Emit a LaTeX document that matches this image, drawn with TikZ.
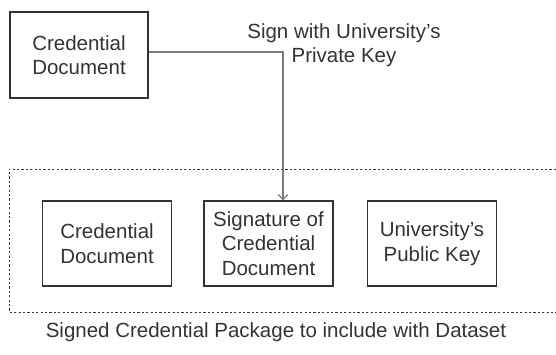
\documentclass[tikz,border=0pt]{standalone}
\usepackage{fontspec}
\setmainfont{Liberation Sans}
\usetikzlibrary{arrows.meta}
\definecolor{txt}{HTML}{333333}
\definecolor{arr}{HTML}{7A7A7A}
\begin{document}
\begin{tikzpicture}[x=1pt,y=-1pt,
  box/.style={draw=txt,line width=1.1pt,minimum width=129pt,minimum height=85pt,inner sep=0pt,align=center,text=txt,font=\fontsize{20.5}{24.5}\selectfont},
  lbl/.style={align=center,text=txt,font=\fontsize{20.5}{24.5}\selectfont},
  conn/.style={draw=arr,line width=1.8pt,-{Straight Barb[length=5pt,width=10pt,line width=1.3pt]}}]
\useasboundingbox (0,0) rectangle (556,354);
\node[box,minimum width=138pt,minimum height=86pt] (cd) at (79,55) {Credential\\Document};
\draw[txt,line width=1pt,dash pattern=on 2.2pt off 2.2pt] (556,169) -- (9,169) -- (9,312) -- (556,312);
\node[box] (b1) at (107,243.5) {Credential\\Document};
\node[box] (b2) at (268.5,243.5) {Signature of\\Credential\\Document};
\node[box] (b3) at (432,243.5) {University's\\Public Key};
\coordinate (turn) at (283,52);
\node[lbl] (sign) at (344,45) {Sign with University's\\Private Key};
\node[lbl] (pkg) at (276,332) {Signed Credential Package to include with Dataset};
\draw[conn] (cd.east |- turn) -- (turn) -- (turn |- b2.north);
\end{tikzpicture}
\end{document}
